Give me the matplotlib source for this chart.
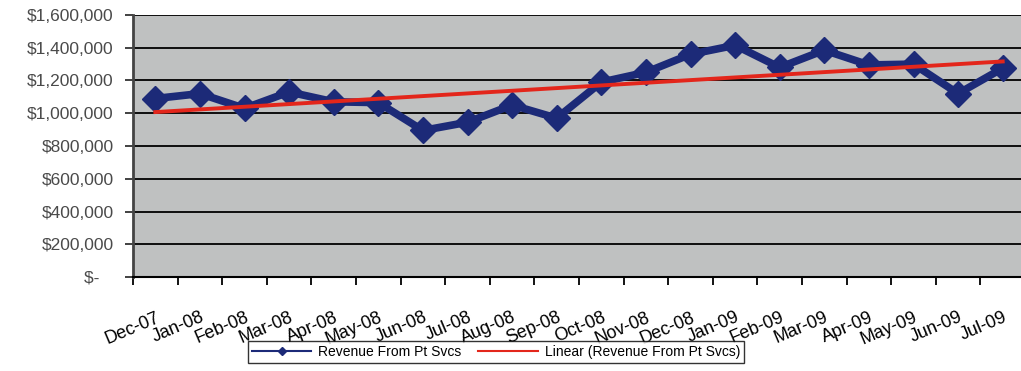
import matplotlib.pyplot as plt
import numpy as np
from matplotlib.lines import Line2D
from matplotlib.ticker import FuncFormatter, MultipleLocator

# monthly revenue from patient services
months = ['Dec-07', 'Jan-08', 'Feb-08', 'Mar-08', 'Apr-08', 'May-08', 'Jun-08',
          'Jul-08', 'Aug-08', 'Sep-08', 'Oct-08', 'Nov-08', 'Dec-08', 'Jan-09',
          'Feb-09', 'Mar-09', 'Apr-09', 'May-09', 'Jun-09', 'Jul-09']
revenue = [1090000, 1120000, 1030000, 1130000, 1070000, 1065000, 895000,
           945000, 1050000, 970000, 1190000, 1250000, 1360000, 1415000,
           1280000, 1385000, 1295000, 1300000, 1120000, 1275000]

plt.rcParams['font.family'] = ['Liberation Sans', 'DejaVu Sans']

blue = '#1c2a78'
red = '#e3261b'

x = np.arange(len(months))
slope, icpt = np.polyfit(x, revenue, 1)
trend = slope * x + icpt

fig = plt.figure(figsize=(10.21, 3.71), dpi=100)
ax = fig.add_axes([133 / 1021, 1 - 277 / 371, 892 / 1021, 262 / 371])
ax.set_facecolor('#bfc1c1')

ax.plot(x, revenue, color=blue, lw=5.5, marker='D', ms=13, zorder=3)
ax.plot(x, trend, color=red, lw=2.8, zorder=4)

ax.set_xlim(-0.5, len(months) - 0.5)
ax.set_ylim(0, 1600000)
ax.yaxis.set_major_locator(MultipleLocator(200000))
ax.yaxis.set_major_formatter(FuncFormatter(
    lambda v, p: '$-   ' if v == 0 else '${:,.0f}'.format(v)))
ax.grid(axis='y', color='black', lw=1.3)
ax.set_axisbelow(True)

ax.set_xticks(x)
ax.set_xticklabels(months, rotation=23, ha='right', rotation_mode='anchor')
ax.set_xticks(np.arange(len(months) + 1) - 0.5, minor=True)
ax.tick_params(axis='x', which='major', length=0, pad=23, labelsize=13)
ax.tick_params(axis='x', which='minor', length=6, width=1.3, color='black')
ax.tick_params(axis='y', length=6, width=1.3, labelsize=12.5,
               labelcolor='#4a4a4a', color='#333333', pad=8)

for s in ['top', 'right']:
    ax.spines[s].set_visible(False)
ax.spines['left'].set_color('#444444')
ax.spines['left'].set_linewidth(2)
ax.spines['bottom'].set_color('black')
ax.spines['bottom'].set_linewidth(1.5)

# legend uses thin sample lines
handles = [Line2D([], [], color=blue, lw=1.5, marker='D', ms=4),
           Line2D([], [], color=red, lw=1.5)]
labels = ['Revenue From Pt Svcs', 'Linear (Revenue From Pt Svcs)']
leg = fig.legend(handles, labels, loc='center',
                 bbox_to_anchor=(496 / 1021, 1 - 352 / 371),
                 ncol=2, fontsize=10, frameon=True, fancybox=False,
                 edgecolor='black', handlelength=4.3, handletextpad=0.5,
                 borderpad=0.3, columnspacing=1.2)
leg.get_frame().set_linewidth(1)

fig.savefig('out.png', dpi=100)
